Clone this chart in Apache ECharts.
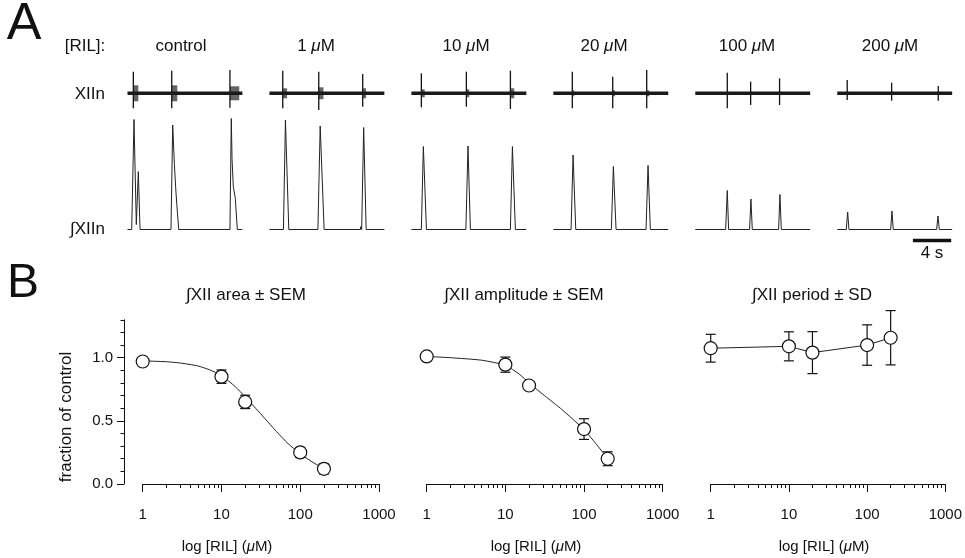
<!DOCTYPE html>
<html lang="en">
<head>
<meta charset="UTF-8">
<title>Riluzole: XII bursts and dose response</title>
<style>
    html, body { margin:0; padding:0; background:#fff; }
    #main { width:965px; height:558px; }
</style>
</head>
<body>
<div id="main"></div>
<script src="https://cdn.jsdelivr.net/npm/echarts@6.0.0/dist/echarts.min.js"></script>
<script>
    var FONT = '"Liberation Sans", Arial, Helvetica, sans-serif';
    var INK = '#111';

    // ---- panel A data (time in s, amplitude in a.u.) ----
    var traceLabels = ['control', '1', '10', '20', '100', '200'];
    var traceSeconds = 12;
    // raw XIIn bursts: [start s, duration s, spike up, spike down, burst envelope]
    var rawControl = [[0.61, 0.52, 21.6, 15, 8], [4.62, 0.58, 22.6, 15, 8], [10.7, 0.97, 23.3, 14.4, 7]];
    var raw1 = [[1.39, 0.45, 22.6, 15, 5], [5.15, 0.49, 21.6, 16.7, 6], [9.74, 0.35, 19.3, 13.4, 5]];
    var raw10 = [[1.04, 0.35, 20, 14, 4], [5.74, 0.3, 21.6, 13.4, 4], [10.34, 0.4, 22.6, 15.7, 5]];
    var raw20 = [[1.98, 0.2, 21.6, 15, 3], [6.2, 0.24, 16.6, 15, 3], [9.75, 0.27, 23.3, 15, 3]];
    var raw100 = [[3.34, 0.1, 20.6, 15, 2], [5.78, 0.1, 11.6, 11.7, 2], [8.8, 0.1, 15, 11.7, 2]];
    var raw200 = [[1.04, 0.1, 13.3, 6.7, 2], [5.68, 0.1, 10.6, 7.4, 2], [10.55, 0.1, 7.3, 7.4, 2]];
    var rawBursts = [rawControl, raw1, raw10, raw20, raw100, raw200];

    // integrated XIIn traces: [t, amplitude]
    var intControl = [[0, 0], [0.44, 0], [0.68, 110], [0.92, 5], [1.13, 58], [1.31, 0], [4.54, 0], [4.72, 104.5],
        [4.9, 65], [5.03, 42], [5.15, 25], [5.35, 0], [10.7, 0], [10.84, 111], [10.92, 70], [11.05, 43],
        [11.26, 31], [11.47, 0], [12, 0]];
    var int1 = [[0, 0], [1.46, 0], [1.67, 109.5], [2.02, 0], [5.06, 0], [5.3, 103.5], [5.71, 0], [9.5, 0],
        [9.55, 3], [9.63, 0], [9.84, 102], [10.1, 0], [12, 0]];
    var int10 = [[0, 0], [1.04, 0], [1.25, 83], [1.57, 0], [5.69, 0], [5.91, 83.5], [6.16, 0], [10.34, 0],
        [10.55, 83], [10.86, 0], [12, 0]];
    var int20 = [[0, 0], [1.85, 0], [2.06, 74.5], [2.34, 0], [6.06, 0], [6.27, 63], [6.55, 0], [9.68, 0],
        [9.89, 64], [10.13, 0], [12, 0]];
    var int100 = [[0, 0], [3.17, 0], [3.34, 39], [3.48, 0], [5.67, 0], [5.81, 30.5], [5.95, 0], [8.7, 0],
        [8.84, 35], [8.98, 0], [12, 0]];
    var int200 = [[0, 0], [0.94, 0], [1.09, 17.5], [1.22, 0], [5.58, 0], [5.71, 18.5], [5.85, 0], [10.38, 0],
        [10.52, 13.5], [10.66, 0], [12, 0]];
    var intTraces = [intControl, int1, int10, int20, int100, int200];
    var scaleBarSeconds = 4;
    var scaleBarEnd = 11.9;
    var scaleBarLevel = -11;

    // ---- panel B data ----
    var conc = [1, 10, 20, 100, 200];
    var areaMean = [0.97, 0.85, 0.65, 0.25, 0.12];
    var areaSem = [0.02, 0.053, 0.053, 0.04, 0.04];
    var ampMean = [1.01, 0.945, 0.78, 0.435, 0.2];
    var ampSem = [0.02, 0.06, 0.03, 0.082, 0.055];
    var periodMean = [1.075, 1.09, 1.04, 1.1, 1.158];
    var periodSd = [0.11, 0.115, 0.166, 0.16, 0.215];
    var areaFitX = [1, 2, 3, 5, 7, 10, 15, 20, 30, 50, 70, 100, 150, 200];
    var areaFitY = [0.975, 0.968, 0.958, 0.935, 0.905, 0.86, 0.77, 0.69, 0.57, 0.415, 0.32, 0.24, 0.165, 0.125];
    var ampFitX = [1, 2, 5, 10, 15, 20, 30, 50, 70, 100, 150, 200];
    var ampFitY = [1.01, 1.0, 0.98, 0.94, 0.87, 0.8, 0.71, 0.6, 0.52, 0.43, 0.3, 0.2];
    var majorLogTicks = [1, 10, 100, 1000];
    var minorLogTicks = [2, 3, 4, 5, 6, 7, 8, 9, 20, 30, 40, 50, 60, 70, 80, 90, 200, 300, 400, 500, 600, 700, 800, 900];
    var yMinorTicks = [0, 0.1, 0.2, 0.3, 0.4, 0.5, 0.6, 0.7, 0.8, 0.9, 1.0, 1.1, 1.2, 1.3];
    var yMajorTicks = [0, 0.5, 1.0];

    // ---- layout ----
    var traceLeft0 = 127.5, traceStep = 141.95, pxPerSec = 9.575;
    var labelCentersA = [181, 316, 466, 604, 747, 890];
    var plotBoxes = [
        { left: 142.7, width: 236.3, title: '\u222BXII area \u00B1 SEM', titleX: 246, nameX: 227 },
        { left: 426.7, width: 236, title: '\u222BXII amplitude \u00B1 SEM', titleX: 524, nameX: 536 },
        { left: 710.7, width: 236.6, title: '\u222BXII period \u00B1 SD', titleX: 812, nameX: 824 }
    ];
    var plotTop = 319.8, plotHeight = 164.2;

    var myChart = echarts.init(document.getElementById('main'));

    function renderBurst(params, api) {
        var t0 = api.value(0), dur = api.value(1), up = api.value(2), down = api.value(3), env = api.value(4);
        var top = api.coord([t0, up]), bot = api.coord([t0, -down]);
        var a = api.coord([t0, env]), b = api.coord([t0 + dur, -env]);
        return {
            type: 'group',
            children: [
                { type: 'rect', shape: { x: a[0], y: a[1], width: Math.max(b[0] - a[0], 1), height: b[1] - a[1] },
                  style: { fill: '#2a2a2a', opacity: 0.72 } },
                { type: 'line', shape: { x1: top[0], y1: top[1], x2: bot[0], y2: bot[1] },
                  style: { stroke: INK, lineWidth: 1.3 } }
            ]
        };
    }

    function renderErr(params, api) {
        var x = api.value(0);
        var hi = api.coord([x, api.value(2)]), lo = api.coord([x, api.value(1)]);
        var w = 5;
        var st = { stroke: INK, lineWidth: 1.2 };
        return {
            type: 'group',
            children: [
                { type: 'line', shape: { x1: hi[0], y1: hi[1], x2: lo[0], y2: lo[1] }, style: st },
                { type: 'line', shape: { x1: hi[0] - w, y1: hi[1], x2: hi[0] + w, y2: hi[1] }, style: st },
                { type: 'line', shape: { x1: lo[0] - w, y1: lo[1], x2: lo[0] + w, y2: lo[1] }, style: st }
            ]
        };
    }

    function pairs(xs, ys) {
        return xs.map(function (x, i) { return [x, ys[i]]; });
    }
    function errData(mean, err) {
        return conc.map(function (c, i) { return [c, mean[i] - err[i], mean[i] + err[i]]; });
    }

    var grid = [], xAxis = [], yAxis = [], series = [], graphic = [];

    // panel A grids: 0..5 raw, 6..11 integrated
    for (var i = 0; i < 6; i++) {
        var left = traceLeft0 + i * traceStep;
        grid.push({ left: left, top: 68.3, width: traceSeconds * pxPerSec, height: 50 });
        xAxis.push({ gridIndex: i, type: 'value', min: 0, max: traceSeconds, show: false });
        yAxis.push({ gridIndex: i, type: 'value', min: -25, max: 25, show: false });
    }
    for (var i = 0; i < 6; i++) {
        var left = traceLeft0 + i * traceStep;
        grid.push({ left: left, top: 114.5, width: traceSeconds * pxPerSec, height: 130 });
        xAxis.push({ gridIndex: 6 + i, type: 'value', min: 0, max: traceSeconds, show: false });
        yAxis.push({ gridIndex: 6 + i, type: 'value', min: -15, max: 115, show: false });
    }
    for (var i = 0; i < 6; i++) {
        series.push({
            type: 'line', xAxisIndex: i, yAxisIndex: i, data: [[0, 0], [traceSeconds, 0]],
            symbol: 'none', lineStyle: { color: '#1a1a1a', width: 3.6 }, silent: true
        });
        series.push({
            type: 'custom', xAxisIndex: i, yAxisIndex: i, data: rawBursts[i],
            renderItem: renderBurst, silent: true
        });
        series.push({
            type: 'line', xAxisIndex: 6 + i, yAxisIndex: 6 + i, data: intTraces[i],
            symbol: 'none', lineStyle: { color: '#222', width: 1 }, silent: true
        });
    }
    series.push({
        type: 'line', xAxisIndex: 11, yAxisIndex: 11,
        data: [[scaleBarEnd - scaleBarSeconds, scaleBarLevel], [scaleBarEnd, scaleBarLevel]],
        symbol: 'none', lineStyle: { color: INK, width: 3.5 }, silent: true
    });

    // panel B grids: 12..14
    plotBoxes.forEach(function (b, k) {
        var g = 12 + k;
        grid.push({ left: b.left, top: plotTop, width: b.width, height: plotHeight });
        xAxis.push({
            gridIndex: g, type: 'log', logBase: 10, min: 1, max: 1000, position: 'bottom',
            axisLine: { lineStyle: { color: INK, width: 1 } },
            axisTick: { length: 8, lineStyle: { color: INK }, customValues: majorLogTicks },
            axisLabel: { color: INK, fontSize: 15, fontFamily: FONT, margin: 23, customValues: majorLogTicks,
                formatter: function (v) { return String(Math.round(v)); } },
            splitLine: { show: false }
        });
        xAxis.push({
            gridIndex: g, type: 'log', logBase: 10, min: 1, max: 1000, position: 'bottom',
            axisLine: { show: false },
            axisTick: { length: 4, lineStyle: { color: INK }, customValues: minorLogTicks },
            axisLabel: { show: false },
            splitLine: { show: false }
        });
    });
    // x axis indices: grid12 -> 12,13 ; grid13 -> 14,15 ; grid14 -> 16,17
    // y axes: 12 (plot1 minor + line), 13 (plot1 major + labels), 14, 15 hidden
    yAxis.push({
        gridIndex: 12, type: 'value', min: 0, max: 1.3, position: 'left', offset: 18.7,
        axisLine: { show: true, lineStyle: { color: INK, width: 1 } },
        axisTick: { length: 3.5, lineStyle: { color: INK }, customValues: yMinorTicks },
        axisLabel: { show: false }, splitLine: { show: false }
    });
    yAxis.push({
        gridIndex: 12, type: 'value', min: 0, max: 1.3, position: 'left', offset: 18.7,
        axisLine: { show: false },
        axisTick: { length: 7, lineStyle: { color: INK }, customValues: yMajorTicks },
        axisLabel: { color: INK, fontSize: 15, fontFamily: FONT, margin: 11, customValues: yMajorTicks,
            formatter: function (v) { return v.toFixed(1); } },
        splitLine: { show: false }
    });
    yAxis.push({ gridIndex: 13, type: 'value', min: 0, max: 1.3, show: false });
    yAxis.push({ gridIndex: 14, type: 'value', min: 0, max: 1.3, show: false });

    var circle = { color: '#fff', borderColor: INK, borderWidth: 1.2, opacity: 1 };
    var plotSets = [
        { xi: 12, yi: 12, mean: areaMean, err: areaSem, fit: pairs(areaFitX, areaFitY) },
        { xi: 14, yi: 14, mean: ampMean, err: ampSem, fit: pairs(ampFitX, ampFitY) },
        { xi: 16, yi: 15, mean: periodMean, err: periodSd, fit: null }
    ];
    plotSets.forEach(function (p) {
        series.push({
            type: 'custom', xAxisIndex: p.xi, yAxisIndex: p.yi, data: errData(p.mean, p.err),
            encode: { x: 0, y: [1, 2] }, renderItem: renderErr, z: 2, silent: true
        });
        if (p.fit) {
            series.push({
                type: 'line', xAxisIndex: p.xi, yAxisIndex: p.yi, data: p.fit, smooth: 0.2,
                symbol: 'none', lineStyle: { color: '#222', width: 1 }, z: 2, silent: true
            });
            series.push({
                type: 'scatter', xAxisIndex: p.xi, yAxisIndex: p.yi, data: pairs(conc, p.mean),
                symbol: 'circle', symbolSize: 13, itemStyle: circle, z: 3, silent: true
            });
        } else {
            series.push({
                type: 'line', xAxisIndex: p.xi, yAxisIndex: p.yi, data: pairs(conc, p.mean),
                symbol: 'circle', symbolSize: 13, itemStyle: circle,
                lineStyle: { color: '#222', width: 1 }, z: 3, silent: true
            });
        }
    });

    // ---- texts ----
    function txt(x, y, text, size, align, extra) {
        var st = {
            text: text, fill: INK, fontSize: size, fontFamily: FONT,
            align: align || 'center', textAlign: align || 'center',
            verticalAlign: 'middle', textVerticalAlign: 'middle',
            rich: { i: { fontStyle: 'italic', fontSize: size, fontFamily: FONT, fill: INK } }
        };
        var el = { type: 'text', x: x, y: y, style: st, silent: true };
        if (extra) { for (var k in extra) el[k] = extra[k]; }
        return el;
    }
    graphic.push(txt(24, 25, 'A', 52));
    graphic.push(txt(23, 284, 'B', 48));
    graphic.push(txt(85, 46, '[RIL]:', 17));
    traceLabels.forEach(function (lab, i) {
        var t = lab === 'control' ? lab : lab + ' {i|\u03BC}M';
        graphic.push(txt(labelCentersA[i], 46, t, 17));
    });
    graphic.push(txt(105, 94, 'XIIn', 17, 'right'));
    graphic.push(txt(105, 229, '\u222BXIIn', 17, 'right'));
    graphic.push(txt(932, 253, '4 s', 17));
    plotBoxes.forEach(function (b) {
        graphic.push(txt(b.titleX, 295, b.title, 17));
        graphic.push(txt(b.nameX, 547, 'log [RIL] ({i|\u03BC}M)', 15));
    });
    graphic.push(txt(66, 417, 'fraction of control', 17, 'center', { rotation: Math.PI / 2 }));

    var option = {
        backgroundColor: '#fff',
        animation: false,
        grid: grid,
        xAxis: xAxis,
        yAxis: yAxis,
        series: series,
        graphic: graphic
    };
    myChart.setOption(option);
</script>
</body>
</html>
